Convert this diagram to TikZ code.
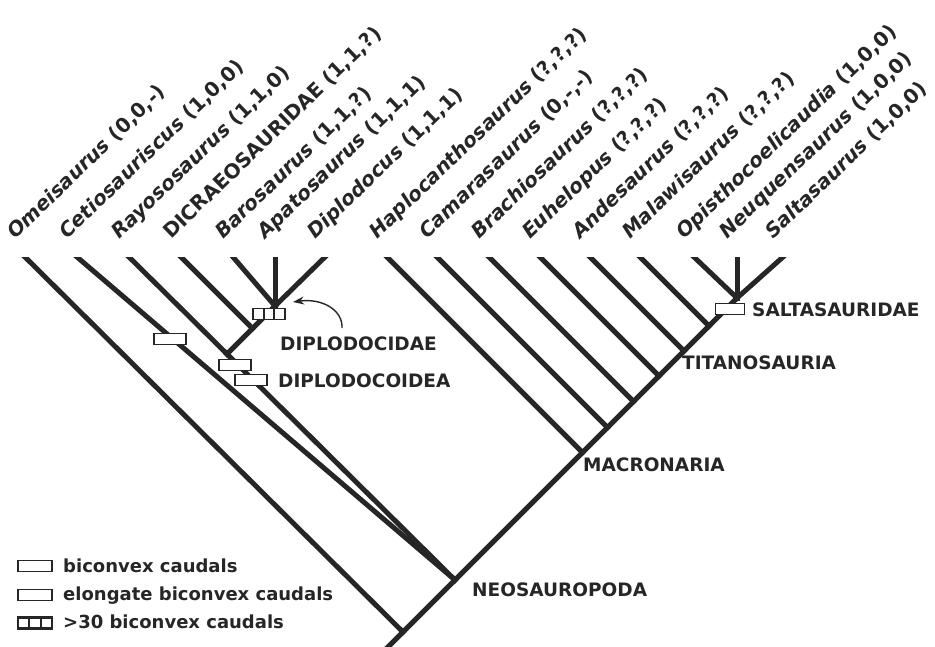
\documentclass[tikz,border=0pt]{standalone}
\usepackage{fontspec}
\setmainfont{DejaVu Sans}
\usetikzlibrary{calc,arrows.meta}

\begin{document}
\begin{tikzpicture}[x=1pt, y=-1pt, >={Stealth[length=11pt,width=8pt]},
    branch/.style={line width=5pt, draw=black!85, line cap=rect},
    taxon/.style={rotate=44, anchor=base west, inner sep=0pt, text=black!85,
      font=\fontsize{20}{24}\selectfont\bfseries},
    clade/.style={anchor=west, inner sep=0pt, text=black!85,
      font=\fontsize{18.5}{22}\selectfont\bfseries},
    legtext/.style={anchor=base west, inner sep=0pt, text=black!85,
      font=\fontsize{18}{21}\selectfont\bfseries},
    caudal/.style={draw=black!85, fill=white, line width=1.7pt, inner sep=0pt,
      minimum width=32pt, minimum height=11pt},
    caudalthirty/.style={caudal, path picture={
      \foreach \f in {0.333,0.667}
        \draw[black!85, line width=1.7pt]
          ($(path picture bounding box.north west)!\f!(path picture bounding box.north east)$) --
          ($(path picture bounding box.south west)!\f!(path picture bounding box.south east)$);}}]

    \useasboundingbox (0,0) rectangle (935,646);

    % ==========================================
    % TIPS AND INTERNAL NODES (pixel grid, y down)
    % ==========================================
    \pgfmathsetmacro{\ytip}{257}   % top of every branch
    \foreach \name/\x in {omei/25, cetio/77, rayo/129, dicra/181, baro/233,
        apato/275, diplo/325, haplo/387, camara/437, brachio/489, euhel/540,
        ande/590, malawi/640, opistho/694, neuq/737, salta/783}
      \coordinate (\name) at (\x,\ytip);

    % nodes along the right-hand backbone
    \coordinate (base)    at (385,650);
    \coordinate (root)    at (403,632);
    \coordinate (neo)     at (455,580);
    \coordinate (macro)   at (582.5,452.5);
    \coordinate (camN)    at (607.5,427.5);
    \coordinate (brachN)  at (633.5,401.5);
    \coordinate (euhelN)  at (659,376);
    \coordinate (andeN)   at (684,351);
    \coordinate (malawiN) at (709,326);
    \coordinate (saltN)   at (737,298);

    % nodes of the diplodocoid side
    \coordinate (ddae)   at (275,306);
    \coordinate (dicraN) at (252.5,328.5);
    \coordinate (dcoid)  at (227,354);

    % ==========================================
    % BRANCHES
    % ==========================================
    \begin{scope}
      \clip (-10,\ytip) rectangle (945,646);
      % backbone
      \draw[branch] (base) -- (root) -- (neo) -- (macro) -- (camN) -- (brachN)
        -- (euhelN) -- (andeN) -- (malawiN) -- (saltN) -- (salta);
      \draw[branch] (omei) -- (root);
      \draw[branch] (cetio) -- (neo);
      \draw[branch] (dcoid) -- (neo);
      % Diplodocoidea
      \draw[branch] (rayo) -- (dcoid);
      \draw[branch] (dcoid) -- (dicraN) -- (ddae);
      \draw[branch] (dicra) -- (dicraN);
      \draw[branch] (baro) -- (ddae);
      \draw[branch] (apato) -- (ddae);
      \draw[branch] (diplo) -- (ddae);
      % Macronaria
      \draw[branch] (haplo) -- (macro);
      \draw[branch] (camara) -- (camN);
      \draw[branch] (brachio) -- (brachN);
      \draw[branch] (euhel) -- (euhelN);
      \draw[branch] (ande) -- (andeN);
      \draw[branch] (malawi) -- (malawiN);
      \draw[branch] (opistho) -- (saltN);
      \draw[branch] (neuq) -- (saltN);
    \end{scope}

    % ==========================================
    % TAXON LABELS
    % ==========================================
    \foreach \name/\txt in {omei/{{\itshape Omeisaurus} (0,0,-)},
        cetio/{{\itshape Cetiosauriscus} (1,0,0)},
        rayo/{{\itshape Rayososaurus} (1,1,0)},
        dicra/{DICRAEOSAURIDAE (1,1,?)},
        baro/{{\itshape Barosaurus} (1,1,?)},
        apato/{{\itshape Apatosaurus} (1,1,1)},
        diplo/{{\itshape Diplodocus} (1,1,1)},
        haplo/{{\itshape Haplocanthosaurus} (?,?,?)},
        camara/{{\itshape Camarasaurus} (0,-,-)},
        brachio/{{\itshape Brachiosaurus} (?,?,?)},
        euhel/{{\itshape Euhelopus} (?,?,?)},
        ande/{{\itshape Andesaurus} (?,?,?)},
        malawi/{{\itshape Malawisaurus} (?,?,?)},
        opistho/{{\itshape Opisthocoelicaudia} (1,0,0)},
        neuq/{{\itshape Neuquensaurus} (1,0,0)},
        salta/{{\itshape Saltasaurus} (1,0,0)}}
      \node[taxon] (l-\name) at ($(\name)+(-10,-17)$) {\txt};

    % ==========================================
    % CAUDAL CHARACTERS AND CLADE NAMES
    % ==========================================
    \node[caudal] (b-cetio) at (170,339) {};
    \node[caudal] (b-dcoid) at (235,365) {};
    \node[caudal] (b-dcoid2) at (251,380) {};
    \node[caudalthirty] (b-ddae) at (269,314) {};
    \node[caudal, minimum width=29pt] (b-salta) at (730,309) {};

    \node[clade] (n-ddae)   at (280,344) {DIPLODOCIDAE};
    \node[clade] (n-dcoid)  at (278,381) {DIPLODOCOIDEA};
    \node[clade] (n-salta)  at (752,310) {SALTASAURIDAE};
    \node[clade] (n-titano) at (682,363) {TITANOSAURIA};
    \node[clade] (n-macro)  at (583,465) {MACRONARIA};
    \node[clade] (n-neo)    at (472,590) {NEOSAUROPODA};

    % arrow from the Diplodocidae label to its node
    \coordinate (arr-tail) at (342,328);
    \coordinate (arr-head) at (293,302);
    \draw[->, black!85, line width=1.4pt] (arr-tail) .. controls (343,310) and (322,298) .. (arr-head);

    % ==========================================
    % KEY
    % ==========================================
    \node[caudal, minimum width=34pt] (k-bic) at (35,566) {};
    \node[legtext] (t-bic) at (63,572) {biconvex caudals};
    \node[caudal, minimum width=34pt] (k-elong) at (35,595) {};
    \node[legtext] (t-elong) at (63,600) {elongate biconvex caudals};
    \node[caudalthirty, minimum width=34pt, line width=2.4pt] (k-thirty) at (35,623) {};
    \node[legtext] (t-thirty) at (63,628) {>30 biconvex caudals};

\end{tikzpicture}
\end{document}
